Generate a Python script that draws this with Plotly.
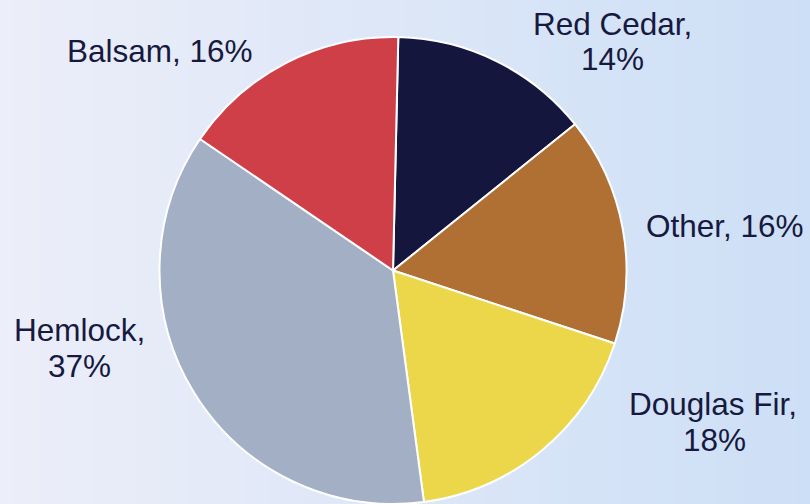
import plotly.graph_objects as go

# Data
species = ["Red Cedar", "Other", "Douglas Fir", "Hemlock", "Balsam"]
shares = [14, 16, 18, 37, 16]
colors = ["#15163e", "#b07033", "#ecd74b", "#a3afc4", "#cf3f47"]

W, H = 810, 504
total = sum(shares)
pct = {s: f"{round(v / total * 100)}%" for s, v in zip(species, shares)}

fig = go.Figure(go.Pie(
    labels=species, values=shares, sort=False, direction="clockwise",
    rotation=1.3, marker=dict(colors=colors, line=dict(color="white", width=2)),
    textinfo="none", hoverinfo="label+percent", showlegend=False,
    domain=dict(x=[0.18519, 0.78519], y=[0.0, 0.9266]),
))

# background gradient (left lavender -> right light blue)
c0 = (0xEC, 0xEE, 0xF9)
c1 = (0xCD, 0xDF, 0xF6)
n = 60
shapes = []
for i in range(n):
    t = i / (n - 1)
    c = tuple(round(a + (b - a) * t) for a, b in zip(c0, c1))
    shapes.append(dict(type="rect", xref="paper", yref="paper",
                       x0=i / n, x1=(i + 1) / n + 0.002, y0=0, y1=1,
                       fillcolor=f"rgb{c}", line=dict(width=0), layer="below"))

# label lines: (text, x px, y px of cap centre)
label_lines = [
    (f"{species[4]}, {pct[species[4]]}", 159.5, 51),
    (f"{species[0]},", 612, 23.5),
    (pct[species[0]], 612.5, 58.5),
    (f"{species[1]}, {pct[species[1]]}", 725, 226),
    (f"{species[2]},", 712.5, 404),
    (pct[species[2]], 714, 440),
    (f"{species[3]},", 79.5, 329.5),
    (pct[species[3]], 79, 366),
]
annotations = [dict(text=t, x=x / W, y=1 - y / H, xref="paper", yref="paper",
                    xanchor="center", yanchor="middle", showarrow=False,
                    font=dict(family="Liberation Sans, Arial", size=31.5, color="#17193f"))
               for t, x, y in label_lines]

fig.update_layout(
    width=W, height=H, margin=dict(l=0, r=0, t=0, b=0),
    paper_bgcolor="#e0e6f7", plot_bgcolor="rgba(0,0,0,0)",
    shapes=shapes, annotations=annotations,
)
fig.write_html("out.html", config={"displayModeBar": False},
               post_script="document.body.style.margin='0';")
